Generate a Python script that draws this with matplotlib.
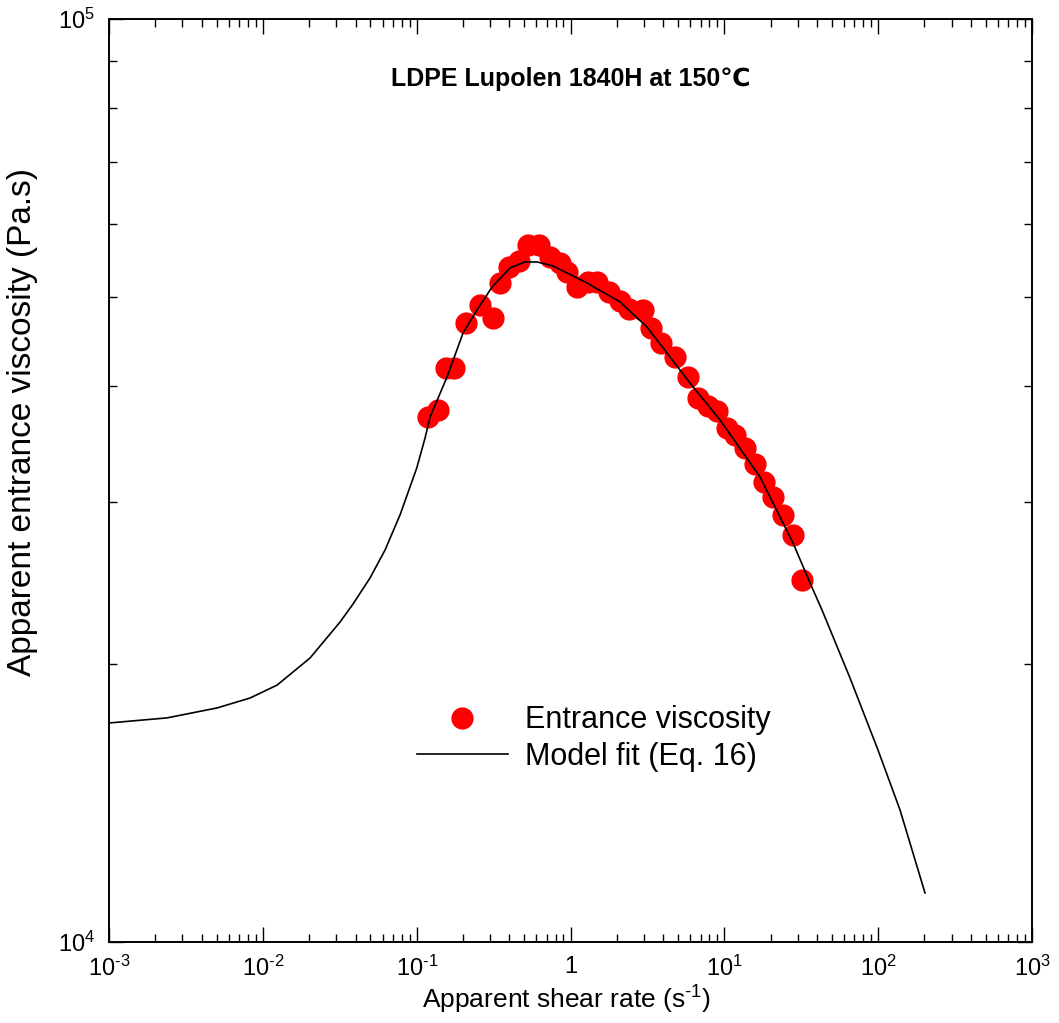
import matplotlib
matplotlib.use('Agg')
import matplotlib.pyplot as plt
from matplotlib.ticker import FixedLocator, FuncFormatter, NullFormatter, LogLocator
import numpy as np

plt.rcParams['font.family'] = ['Liberation Sans', 'DejaVu Sans']
plt.rcParams['mathtext.default'] = 'regular'

# measured entrance viscosity
shear_rate = [0.1185, 0.1376, 0.1551, 0.1749, 0.2093, 0.2581, 0.3135, 0.348, 0.3985,
              0.4627, 0.5295, 0.6242, 0.7358, 0.8546, 0.9491, 1.102, 1.30, 1.487,
              1.78, 2.098, 2.402, 2.961, 3.338, 3.876, 4.779, 5.806, 6.744, 7.832,
              8.964, 10.41, 11.73, 13.63, 15.83, 18.11, 20.73, 24.07, 27.96, 31.99]
visc = [37050, 37710, 41870, 41870, 46840, 48990, 47440, 51760, 53870,
        54680, 56900, 56900, 55230, 54400, 53200, 51240, 51890, 51890,
        50610, 49490, 48510, 48390, 46260, 44570, 43040, 40940, 38850, 38080,
        37610, 36050, 35430, 34290, 32950, 31510, 30350, 29020, 27610, 24670]

# model fit (Eq. 16)
fit_rate = [0.001, 0.00238, 0.00504, 0.00825, 0.01236, 0.02026, 0.03176, 0.03857,
            0.04973, 0.06226, 0.0779, 0.1001, 0.1133, 0.1221, 0.1574, 0.2, 0.2466,
            0.3089, 0.4045, 0.506, 0.6057, 0.7697, 1.28, 2.098, 3.144, 5.98, 9.374,
            17.06, 27.96, 36.06, 43.15, 65.6, 99.8, 138.7, 201.6]
fit_visc = [17270, 17490, 17930, 18380, 18980, 20310, 22220, 23240,
            24800, 26590, 29020, 32630, 35160, 37050, 40940, 45680, 48390,
            51240, 53740, 54550, 54550, 54010, 51760, 49370, 46370, 40330, 36780,
            31900, 27060, 24490, 22890, 19320, 16140, 13900, 11300]

fig = plt.figure(figsize=(10.59, 10.23), dpi=100)
ax = fig.add_axes([0.103, 0.0792, 0.8715, 0.9022])

ax.plot(shear_rate, visc, 'o', color='#ff0000', markersize=16, markeredgewidth=0,
        label='Entrance viscosity', zorder=2)
ax.plot(fit_rate, fit_visc, '-', color='black', linewidth=1.2,
        label='Model fit (Eq. 16)', zorder=3)

ax.set_xscale('log')
ax.set_yscale('log')
ax.set_xlim(1e-3, 1e3)
ax.set_ylim(1e4, 1e5)


def pow_label(v, pos):
    e = int(round(np.log10(v)))
    if e == 0:
        return '1'
    return '$10^{%s}$' % str(e).replace('-', '\u2010')


ax.xaxis.set_major_locator(FixedLocator([1e-3, 1e-2, 1e-1, 1, 1e1, 1e2, 1e3]))
ax.xaxis.set_major_formatter(FuncFormatter(pow_label))
ax.xaxis.set_minor_locator(LogLocator(base=10, subs=np.arange(2, 10), numticks=20))
ax.xaxis.set_minor_formatter(NullFormatter())
ax.yaxis.set_major_locator(FixedLocator([1e4, 1e5]))
ax.yaxis.set_major_formatter(FuncFormatter(pow_label))
ax.yaxis.set_minor_locator(LogLocator(base=10, subs=np.arange(2, 10), numticks=20))
ax.yaxis.set_minor_formatter(NullFormatter())

ax.tick_params(which='both', direction='in', top=True, right=True, width=1.0,
               labelsize=17, pad=10)
ax.tick_params(which='major', length=11)
ax.tick_params(which='minor', length=6)
for s in ax.spines.values():
    s.set_linewidth(1.4)

ax.set_xlabel('Apparent shear rate (s$^{\u20101}$)', fontsize=19, va='center')
ax.xaxis.set_label_coords(0.496, -0.063)
ax.set_ylabel('Apparent entrance viscosity (Pa.s)', fontsize=24, va='center')
ax.yaxis.set_label_coords(-0.094, 0.563)

ax.text(0.5, 0.935, 'LDPE Lupolen 1840H at 150℃', transform=ax.transAxes,
        ha='center', va='center', fontsize=18, fontweight='bold')

ax.legend(loc='center left', bbox_to_anchor=(0.3337, 0.2205), frameon=False,
          fontsize=22, handlelength=2.97, handletextpad=0.56, labelspacing=0.21,
          borderpad=0, borderaxespad=0, markerscale=1.0, numpoints=1)

fig.savefig('out.png', dpi=100)
